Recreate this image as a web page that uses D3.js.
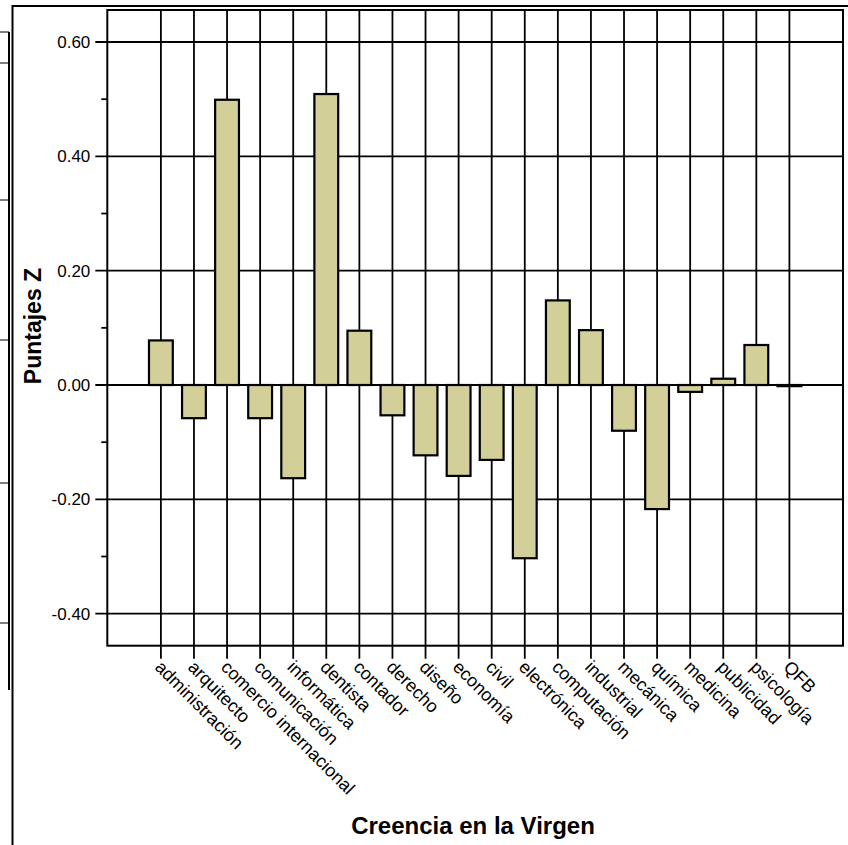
<!DOCTYPE html>
<html>
<head>
<meta charset="utf-8">
<script src="https://cdn.jsdelivr.net/npm/d3@7"></script>
<style>
  html, body { margin: 0; padding: 0; background: #fff; }
  svg { display: block; }
  text { font-family: "Liberation Sans", Arial, sans-serif; fill: #000; }
</style>
</head>
<body>
<script>
const categories = ["administración","arquitecto","comercio internacional","comunicación","informática","dentista","contador","derecho","diseño","economía","civil","electrónica","computación","industrial","mecánica","química","medicina","publicidad","psicología","QFB"];
const values = [0.078,-0.058,0.499,-0.058,-0.163,0.509,0.095,-0.053,-0.123,-0.159,-0.131,-0.303,0.148,0.096,-0.080,-0.217,-0.012,0.011,0.070,-0.002];
const majorTicks = [-0.40,-0.20,0.00,0.20,0.40,0.60];
const minorTicks = [-0.30,-0.10,0.10,0.30,0.50];
const yTitle = "Puntajes Z";
const xTitle = "Creencia en la Virgen";

const W = 848, H = 845;
const plot = {left: 107.3, right: 843, top: 10, bottom: 645.7};

const svg = d3.select("body").append("svg").attr("width", W).attr("height", H);

// decorative frame / neighbouring panel fragment
const deco = svg.append("g").attr("stroke", "#000").attr("fill", "none");
deco.append("path").attr("d", "M12.5,845 L12.5,6 L848,6").attr("stroke-width", 2);
deco.append("line").attr("x1", 9).attr("x2", 9).attr("y1", 32).attr("y2", 690).attr("stroke-width", 2);
[32, 63, 200, 340, 483, 623].forEach(yy => {
  deco.append("line").attr("x1", 0).attr("x2", 9).attr("y1", yy).attr("y2", yy).attr("stroke-width", 1);
});

const x = d3.scalePoint().domain(categories).range([plot.left, plot.right]).padding(1.62);
const y = d3.scaleLinear().domain([-0.456, 0.656]).range([plot.bottom, plot.top]);
const barW = x.step() * 0.72;

// horizontal gridlines
svg.append("g").selectAll("line").data(majorTicks).join("line")
  .attr("x1", plot.left - 12).attr("x2", plot.right)
  .attr("y1", d => y(d)).attr("y2", d => y(d))
  .attr("stroke", "#000").attr("stroke-width", 1.8);

// minor ticks
svg.append("g").selectAll("line").data(minorTicks).join("line")
  .attr("x1", plot.left - 6).attr("x2", plot.left)
  .attr("y1", d => y(d)).attr("y2", d => y(d))
  .attr("stroke", "#000").attr("stroke-width", 1.8);

// vertical gridlines + ticks
svg.append("g").selectAll("line").data(categories).join("line")
  .attr("x1", d => x(d)).attr("x2", d => x(d))
  .attr("y1", plot.top).attr("y2", plot.bottom + 13)
  .attr("stroke", "#000").attr("stroke-width", 1.8);

// bars
svg.append("g").selectAll("rect").data(values).join("rect")
  .attr("x", (d, i) => x(categories[i]) - barW / 2)
  .attr("width", barW)
  .attr("y", d => Math.min(y(d), y(0)))
  .attr("height", d => Math.max(Math.abs(y(d) - y(0)), 0.5))
  .attr("fill", "#d3cf98")
  .attr("stroke", "#000").attr("stroke-width", 2.2);

// plot border
svg.append("rect")
  .attr("x", plot.left).attr("y", plot.top)
  .attr("width", plot.right - plot.left).attr("height", plot.bottom - plot.top)
  .attr("fill", "none").attr("stroke", "#000").attr("stroke-width", 2);

// y tick labels
const fmt = d => d3.format(".2f")(d).replace("\u2212", "-");
svg.append("g").selectAll("text").data(majorTicks).join("text")
  .attr("x", plot.left - 17).attr("y", d => y(d)).attr("dy", "0.35em")
  .attr("text-anchor", "end").attr("font-size", 17)
  .text(fmt);

// x tick labels
svg.append("g").selectAll("text").data(categories).join("text")
  .attr("transform", d => `translate(${x(d) - 2.5},${plot.bottom + 18}) rotate(45)`)
  .attr("dy", "0.35em")
  .attr("text-anchor", "start").attr("font-size", 18)
  .text(d => d);

// axis titles
svg.append("text")
  .attr("transform", `translate(41,326) rotate(-90)`)
  .attr("text-anchor", "middle").attr("font-size", 23).attr("font-weight", "bold")
  .text(yTitle);

svg.append("text")
  .attr("x", 473).attr("y", 834)
  .attr("text-anchor", "middle").attr("font-size", 24).attr("font-weight", "bold")
  .text(xTitle);
</script>
</body>
</html>
